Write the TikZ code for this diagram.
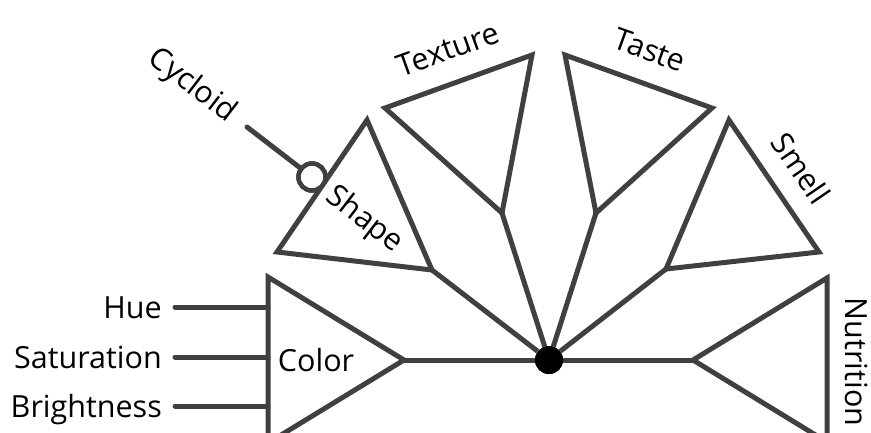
\documentclass[tikz,border=0pt]{standalone}
\usepackage{fontspec}
\setmainfont{Open Sans}
\definecolor{linegray}{HTML}{404040}
\begin{document}
\begin{tikzpicture}[x=1pt,y=-1pt,
  edge/.style={draw=linegray, line width=5pt},
  tri/.style={draw=linegray, line width=5pt, line join=miter},
  lbl/.style={font=\fontsize{30.5}{36}\selectfont, inner sep=0pt, text=black},
  hubdot/.style={circle, fill=black, minimum size=28pt, inner sep=0pt},
  ring/.style={circle, draw=linegray, line width=4.5pt, fill=white, minimum size=27pt, inner sep=0pt}]
\clip (0,0) rectangle (871,432);
% hub
\node[hubdot] (hub) at (549,360) {};
% Color triangle
\coordinate (cT) at (268,277);
\coordinate (cA) at (404,360);
\coordinate (cB) at (268,443);
\draw[tri] (cT) -- (cA) -- (cB) -- cycle;
% Nutrition triangle
\coordinate (nT) at (827,278);
\coordinate (nA) at (693,360);
\coordinate (nB) at (827,442);
\draw[tri] (nT) -- (nA) -- (nB) -- cycle;
% Shape triangle
\coordinate (sT) at (367,120);
\coordinate (sL) at (277,252);
\coordinate (sA) at (432,270);
\draw[tri] (sT) -- (sL) -- (sA) -- cycle;
% Smell triangle
\coordinate (mT) at (729,120);
\coordinate (mR) at (819,252);
\coordinate (mA) at (666,269);
\draw[tri] (mT) -- (mR) -- (mA) -- cycle;
% Texture triangle
\coordinate (xL) at (385,108);
\coordinate (xR) at (532,55);
\coordinate (xA) at (502,213);
\draw[tri] (xL) -- (xR) -- (xA) -- cycle;
% Taste triangle
\coordinate (tL) at (565,55);
\coordinate (tR) at (712,108);
\coordinate (tA) at (596,213);
\draw[tri] (tL) -- (tR) -- (tA) -- cycle;
% spokes
\draw[edge] (cA) -- (hub);
\draw[edge] (nA) -- (hub);
\draw[edge] (sA) -- (hub);
\draw[edge] (mA) -- (hub);
\draw[edge] (xA) -- (hub);
\draw[edge] (tA) -- (hub);
\node[hubdot] at (hub) {};
% color inputs
\coordinate (hueE) at (268,307);
\coordinate (satE) at (268,357);
\coordinate (briE) at (268,406);
\coordinate (hueS) at (175,307);
\coordinate (satS) at (175,357);
\coordinate (briS) at (175,406);
\draw[edge, line cap=round] (hueS) -- (hueE);
\draw[edge, line cap=round] (satS) -- (satE);
\draw[edge, line cap=round] (briS) -- (briE);
\node[lbl, anchor=base east] (hue) at (162,318) {Hue};
\node[lbl, anchor=base east] (sat) at (162,368) {Saturation};
\node[lbl, anchor=base east] (bri) at (162,417) {Brightness};
% cycloid
\coordinate (cycS) at (247,127);
\node[ring] (cyc) at (312,177) {};
\draw[edge, line cap=round] (cycS) -- (cyc);
\node[ring] at (cyc) {};
% labels
\node[lbl] (colorL) at (316,360) {Color};
\node[lbl, rotate=-90] (nutL) at (857,362) {Nutrition};
\node[lbl, rotate=19.8] (texL) at (448,49) {Texture};
\node[lbl, rotate=-19.8] (tasL) at (650,50) {Taste};
\node[lbl, rotate=-55.7] (smlL) at (801,168) {Smell};
\node[lbl, rotate=-37.6] (shpL) at (364,220) {Shape};
\node[lbl, rotate=-37.6] (cycL) at (192,86) {Cycloid};
\end{tikzpicture}
\end{document}
